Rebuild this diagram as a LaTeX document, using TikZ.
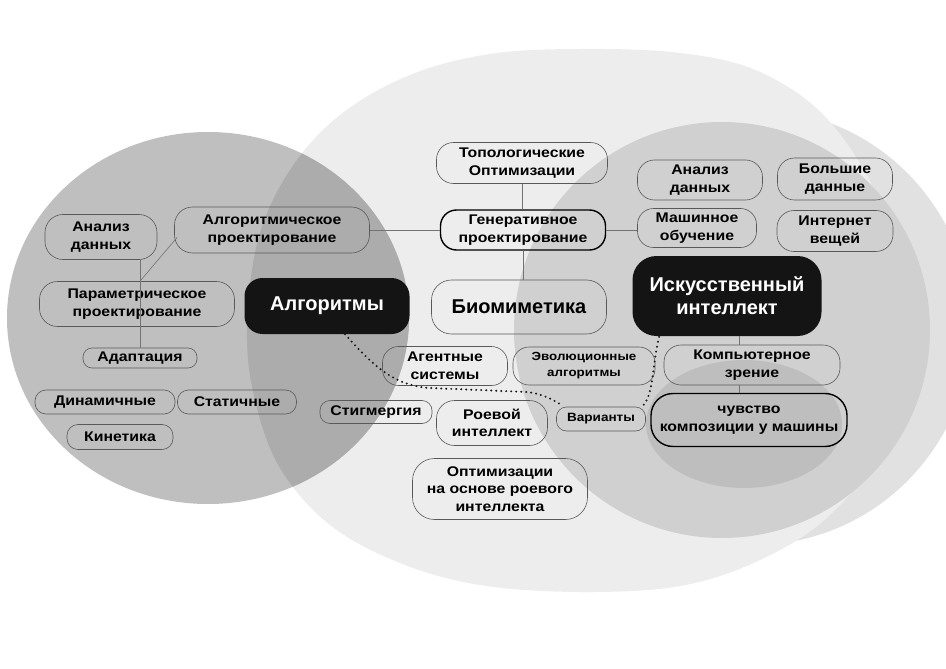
\documentclass[tikz,border=0pt]{standalone}
\usepackage{fontspec}
\setmainfont[FakeStretch=1.13]{Liberation Sans}
\newfontfamily\bigsans{Liberation Sans}
\definecolor{cB}{HTML}{EDEDED}
\definecolor{cR}{HTML}{E1E1E1}
\definecolor{cM}{HTML}{D0D0D0}
\definecolor{cS}{HTML}{BEBEBE}
\definecolor{cL}{HTML}{BFBFBF}
\definecolor{cLB}{HTML}{ACACAC}
\newcommand{\bigblob}{plot[smooth cycle, tension=0.6] coordinates {(247,330) (258,240) (290,170) (340,115) (410,75) (490,54) (580,49) (680,53) (760,72) (830,122) (885,215) (905,330) (885,440) (830,515) (760,560) (680,586) (580,592) (480,585) (400,563) (330,525) (280,468) (255,400)}}
\begin{document}
\begin{tikzpicture}[x=1pt,y=-1pt,
  bx/.style={draw=black!65, line width=0.6pt, align=center, inner sep=0pt, rounded corners=14pt,
     font=\fontsize{14}{17.5}\selectfont\bfseries, text=black},
  sz/.style 2 args={minimum width=#1pt, minimum height=#2pt},
  thk/.style={draw=black, line width=1.4pt},
  blk/.style={fill=black!92, text=white, align=center, inner sep=0pt, rounded corners=18pt,
     font=\bigsans\fontsize{20}{23}\selectfont\bfseries},
  ln/.style={draw=black!55, line width=0.6pt},
  dots/.style={draw=black!90, line width=2.2pt, line cap=round, dash pattern=on 0pt off 5pt}]
\fill[white] (0,0) rectangle (946,669);
\useasboundingbox (0,0) rectangle (946,669);
% background circles
\fill[cR] (753,327) circle [radius=218pt];
\fill[cB] \bigblob;
\fill[cM] (722,330) circle [radius=208pt];
\fill[cS] (744,424) ellipse [x radius=98pt, y radius=64pt];
\fill[cL] (208,318) ellipse [x radius=201pt, y radius=186pt];
\begin{scope}
  \clip (208,318) ellipse [x radius=201pt, y radius=186pt];
  \fill[cLB] \bigblob;
\end{scope}
% left cluster
\node[bx, sz={112}{45}, rounded corners=18pt] (ad1) at (101,237) {Анализ\\данных};
\node[bx, sz={195}{46}, rounded corners=18pt] (algp) at (272,230) {Алгоритмическое\\проектирование};
\node[bx, sz={195}{45}, rounded corners=18pt] (par) at (137,304) {Параметрическое\\проектирование};
\node[bx, sz={114}{20}, rounded corners=9pt] (adap) at (140,358) {Адаптация};
\node[bx, sz={140}{24}, rounded corners=11pt] (dyn) at (105,402) {Динамичные};
\node[bx, sz={119}{24}, rounded corners=11pt] (stat) at (237,402) {Статичные};
\node[bx, sz={106}{25}, rounded corners=11pt] (kin) at (120,437) {Кинетика};
\node[blk, sz={165}{56}] (alg) at (327,306) {Алгоритмы};
% centre
\node[bx, sz={171}{41}, rounded corners=17pt] (topo) at (522,163) {Топологические\\Оптимизации};
\node[bx, thk, sz={165}{40}, rounded corners=16pt] (gen) at (523,230) {Генеративное\\проектирование};
\node[bx, sz={175}{54}, rounded corners=20pt, font=\bigsans\fontsize{20}{23}\selectfont\bfseries] (bio) at (519,307) {Биомиметика};
\node[bx, sz={125}{39}, rounded corners=16pt] (agent) at (445,366) {Агентные\\системы};
\node[bx, sz={142}{38}, rounded corners=16pt, font=\fontsize{11.8}{16}\selectfont\bfseries] (evo) at (584,366) {Эволюционные\\алгоритмы};
\node[bx, sz={112}{23}, rounded corners=10pt] (stig) at (376,412) {Стигмергия};
\node[bx, sz={111}{45}, rounded corners=18pt] (swarm) at (492,423) {Роевой\\интеллект};
\node[bx, sz={175}{61}, rounded corners=22pt] (opt) at (500,489) {Оптимизации\\на основе роевого\\интеллекта};
\node[bx, sz={89}{24}, rounded corners=10pt, font=\fontsize{12}{16}\selectfont\bfseries] (var) at (601,419) {Варианты};
% right cluster
\node[bx, sz={125}{40}, rounded corners=17pt] (ad2) at (700,180) {Анализ\\данных};
\node[bx, sz={115}{42}, rounded corners=17pt] (bigd) at (835,179) {Большие\\данные};
\node[bx, sz={119}{39}, rounded corners=16pt] (ml) at (697,228) {Машинное\\обучение};
\node[bx, sz={116}{41}, rounded corners=17pt] (iot) at (835,231) {Интернет\\вещей};
\node[blk, sz={189}{80}, rounded corners=24pt] (ai) at (727,296) {Искусственный\\интеллект};
\node[bx, sz={176}{40}, rounded corners=17pt] (cv) at (752,365) {Компьютерное\\зрение};
\node[bx, thk, sz={196}{53}, rounded corners=22pt] (feel) at (749,420) {чувство\\композиции у машины};
% connectors
\draw[ln] (adap.north) -- (adap.north |- ad1.south);
\draw[ln] ([shift={(3,-16)}]algp.south west) -- (adap.north |- par.north);
\draw[ln] (adap.north) -- (adap.north |- par.south);
\draw[ln] (algp.east) -- (gen.west);
\draw[ln] (topo.south) -- (topo.south |- gen.north);
\draw[ln] (gen.south) -- (gen.south |- bio.north);
\draw[ln] (gen.east) -- (gen.east -| ml.west);
\draw[ln] ([xshift=12pt]ai.south) -- ([xshift=12pt]ai.south |- cv.north);
\draw[ln] ([xshift=-13pt]cv.south) -- ([xshift=-13pt]cv.south |- feel.north);
% dotted links
\coordinate (d1) at (430,388);
\coordinate (d2) at (527,392);
\draw[dots] ([xshift=18pt]alg.south) .. controls (370,362) and (392,386) .. (d1) -- (d2)
   .. controls (545,394) and (556,402) .. ([shift={(5,-2)}]var.north west);
\draw[dots] ([shift={(-2,-2)}]var.north east) .. controls (654,392) and (652,365) .. ([xshift=27pt]ai.south west);
\end{tikzpicture}
\end{document}
